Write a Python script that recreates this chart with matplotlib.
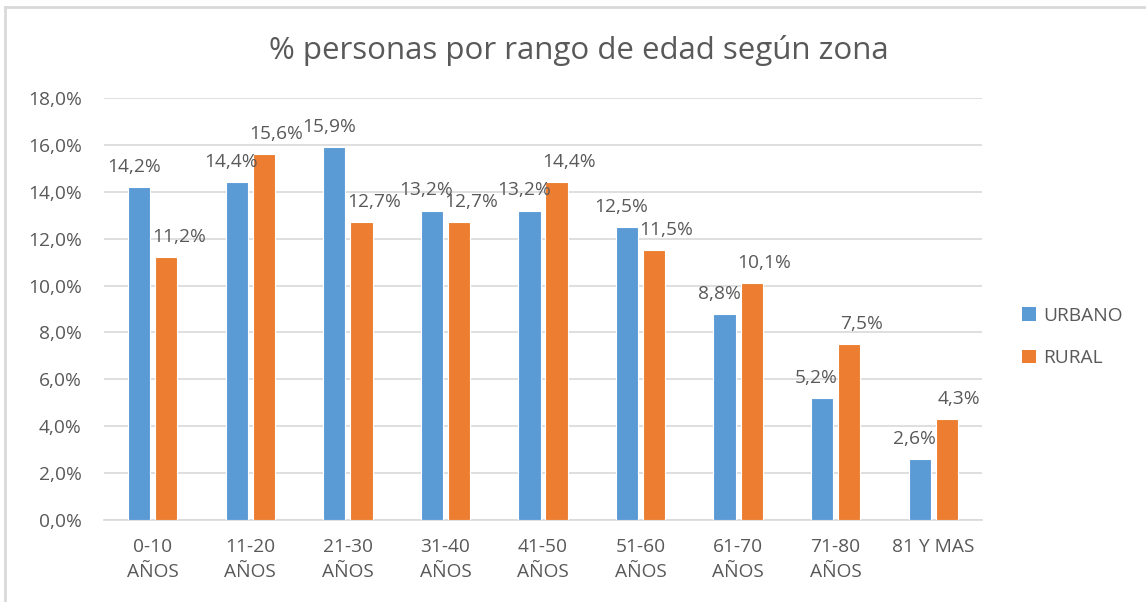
import matplotlib
matplotlib.use("Agg")
import matplotlib.pyplot as plt
from matplotlib.lines import Line2D
from matplotlib.patches import Patch
import numpy as np

categories = ["0-10\nAÑOS", "11-20\nAÑOS", "21-30\nAÑOS", "31-40\nAÑOS", "41-50\nAÑOS",
              "51-60\nAÑOS", "61-70\nAÑOS", "71-80\nAÑOS", "81 Y MAS"]
urbano = [14.2, 14.4, 15.9, 13.2, 13.2, 12.5, 8.8, 5.2, 2.6]
rural = [11.2, 15.6, 12.7, 12.7, 14.4, 11.5, 10.1, 7.5, 4.3]
yticks = [0, 2, 4, 6, 8, 10, 12, 14, 16, 18]

plt.rcParams['font.family'] = ['Open Sans', 'DejaVu Sans']
TXT = '#595959'
BLUE = '#5B9BD5'
ORANGE = '#ED7D31'
FS = 13.8

W, H = 1146, 602
fig = plt.figure(figsize=(W / 100, H / 100), dpi=100)
# axes: x 104..982, y 98..520 (pixels from top)
ax = fig.add_axes([104 / W, 1 - 520 / H, (982 - 104) / W, (520 - 98) / H])

x = np.arange(len(categories))
bw = 0.228
gap = 0.025
ax.bar(x - bw / 2 - gap, urbano, bw, color=BLUE, edgecolor='white', linewidth=0.8, zorder=3)
ax.bar(x + bw / 2 + gap, rural, bw, color=ORANGE, edgecolor='white', linewidth=0.8, zorder=3)

for i in range(len(categories)):
    ax.annotate(f"{urbano[i]:.1f}%".replace('.', ','), (x[i] - bw / 2 - gap, urbano[i]),
                xytext=(-4, 8), textcoords='offset points', ha='center', va='bottom',
                fontsize=FS, color=TXT)
    ax.annotate(f"{rural[i]:.1f}%".replace('.', ','), (x[i] + bw / 2 + gap, rural[i]),
                xytext=(9, 8), textcoords='offset points', ha='center', va='bottom',
                fontsize=FS, color=TXT)

ax.set_xlim(-0.5, len(categories) - 0.5)
ax.set_ylim(0, 18)
ax.set_yticks(yticks)
ax.set_yticklabels([f"{v:.1f}%".replace('.', ',') for v in yticks], fontsize=FS, color=TXT)
ax.set_xticks(x)
ax.set_xticklabels(categories, fontsize=FS, color=TXT, linespacing=1.5)
ax.tick_params(axis='both', length=0)
ax.tick_params(axis='y', pad=16)
ax.tick_params(axis='x', pad=13)
ax.grid(axis='y', color='#D9D9D9', linewidth=1.2, zorder=0)
for s in ['top', 'right', 'left']:
    ax.spines[s].set_visible(False)
ax.spines['bottom'].set_color('#D9D9D9')
ax.spines['bottom'].set_linewidth(1.2)

fig.text(579 / W, 1 - 50 / H, "% personas por rango de edad según zona", ha='center', va='center',
         fontsize=22.5, color=TXT)

handles = [Patch(facecolor=BLUE, label='URBANO'), Patch(facecolor=ORANGE, label='RURAL')]
fig.legend(handles=handles, loc='center left', bbox_to_anchor=(1005 / W, 1 - 337 / H),
           frameon=False, fontsize=FS, labelcolor=TXT, handlelength=0.7, handleheight=0.7,
           handletextpad=0.4, labelspacing=1.3)

# chart frame
fig.add_artist(Line2D([5 / W, 1], [1 - 7 / H, 1 - 7 / H], color='#D9D9D9', linewidth=2, transform=fig.transFigure))
fig.add_artist(Line2D([5 / W, 5 / W], [0, 1 - 7 / H], color='#D9D9D9', linewidth=2, transform=fig.transFigure))

fig.savefig("out.png", dpi=100, facecolor='white')
